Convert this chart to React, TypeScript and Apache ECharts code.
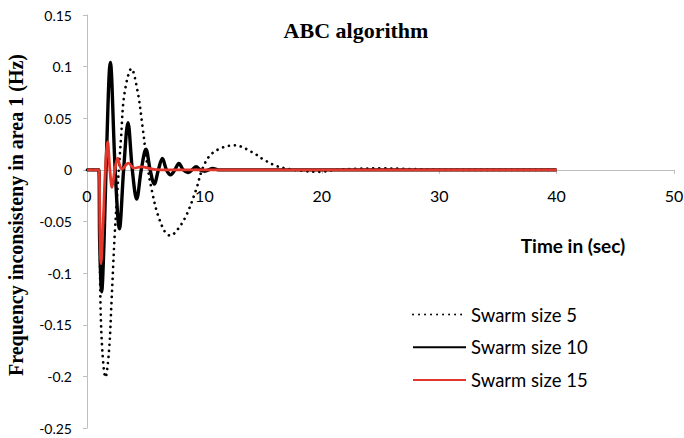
import React, { useEffect, useRef } from "react";
import * as echarts from "echarts";

// ---- Data ----
const xTickLabels = ["0", "10", "20", "30", "40", "50"];
const yTickLabels = ["-0.25", "-0.2", "-0.15", "-0.1", "-0.05", "0", "0.05", "0.1", "0.15"];

const seriesNames = ["Swarm size 5", "Swarm size 10", "Swarm size 15"];

// Swarm size 5 (dotted)
const timeSwarm5 = [0, 1.0, 1.14, 1.31, 1.57, 1.87, 2.1, 2.35, 2.61, 2.9, 3.18, 3.78, 4.31, 4.74, 5.17, 5.59, 6.02, 6.64, 7.1, 7.7, 8.46, 9.31, 9.8, 10.44, 11.4, 12.57, 14.13, 15.0, 16.1, 17.25, 18.4, 19.8, 21.2, 23.0, 25.0, 27.0, 29.0, 32, 40];
const valSwarm5 = [0, 0, -0.125, -0.176, -0.201, -0.176, -0.125, -0.065, -0.017, 0.031, 0.073, 0.098, 0.076, 0.041, 0.002, -0.0235, -0.043, -0.06, -0.0637, -0.058, -0.044, -0.0186, 0, 0.0135, 0.021, 0.0238, 0.0168, 0.0103, 0.0039, 0.0007, -0.001, -0.0019, 0, 0.001, 0.0015, 0.001, 0.0003, 0, 0];

// Swarm size 10 (solid black)
const timeSwarm10 = [0, 1.0, 1.08, 1.25, 1.45, 1.62, 1.99, 2.4, 2.76, 3.12, 3.49, 3.86, 4.23, 4.62, 5.02, 5.38, 5.73, 6.08, 6.42, 6.77, 7.12, 7.48, 7.83, 8.2, 8.6, 8.95, 9.3, 9.65, 10.0, 10.35, 10.7, 11.2, 12, 40];
const valSwarm10 = [0, 0, -0.07, -0.118, -0.07, 0, 0.104, 0, -0.057, 0, 0.0457, 0, -0.0283, 0, 0.02, 0, -0.0138, 0, 0.011, 0, -0.0048, 0, 0.0062, 0, -0.0026, 0, 0.003, 0, -0.0012, 0, 0.0013, 0, 0, 0];

// Swarm size 15 (solid red)
const timeSwarm15 = [0, 1.02, 1.1, 1.19, 1.38, 1.56, 1.76, 1.95, 2.13, 2.37, 2.61, 2.8, 2.98, 3.52, 4.03, 4.6, 5.7, 7, 40];
const valSwarm15 = [0, 0, -0.06, -0.091, -0.05, 0, 0.0274, 0, -0.017, 0, 0.0113, 0.004, 0.0007, 0.0065, 0.0016, 0.003, 0.0005, 0, 0];

const titleText = "ABC algorithm";
const xAxisTitle = "Time in (sec)";
const yAxisTitle = "Frequency inconsisteny in area 1 (Hz)";

const pairs = (t: number[], v: number[]) => t.map((x, i) => [x, v[i]]);

export default function App() {
  const ref = useRef<HTMLDivElement>(null);
  useEffect(() => {
    if (!ref.current) return;
    const chart = echarts.init(ref.current, undefined, { renderer: "svg" });
    const axisGrey = "#bfbfbf";
    const gridTop = 15;
    const gridBottom = 10;
    const gridHeight = 438 - gridTop - gridBottom;
    const yMin = -0.25;
    const yMax = 0.15;
    // distance (px) from bottom of grid to the zero line, so the x axis sits on y = 0
    const zeroOffset = -((0 - yMin) / (yMax - yMin)) * gridHeight;
    const option: any = {
      animation: false,
      backgroundColor: "#ffffff",
      grid: { left: 87, right: 10, top: gridTop, bottom: gridBottom, containLabel: false, outerBoundsMode: "none" },
      xAxis: {
        type: "value",
        min: 0,
        max: 50,
        interval: 10,
        position: "bottom",
        offset: zeroOffset,
        axisLine: { show: true, onZero: false, lineStyle: { color: axisGrey, width: 1 } },
        axisTick: { show: true, length: 4, inside: false, lineStyle: { color: axisGrey } },
        axisLabel: {
          margin: 18,
          color: "#000",
          fontFamily: "Lato",
          fontSize: 16,
          formatter: (v: number) => xTickLabels[Math.round(v / 10)] ?? String(v),
        },
        splitLine: { show: false },
      },
      yAxis: {
        type: "value",
        min: yMin,
        max: yMax,
        interval: 0.05,
        axisLine: { show: true, lineStyle: { color: axisGrey, width: 1 } },
        axisTick: { show: true, length: 4, inside: false, lineStyle: { color: axisGrey } },
        axisLabel: {
          margin: 15,
          color: "#000",
          fontFamily: "Lato",
          fontSize: 14,
          formatter: (v: number) => yTickLabels[Math.round((v + 0.25) / 0.05)] ?? String(v),
        },
        splitLine: { show: false },
      },
      legend: {
        orient: "vertical",
        left: 412,
        top: 305,
        padding: 0,
        itemWidth: 53,
        itemHeight: 14,
        itemGap: 13.7,
        itemStyle: { opacity: 0 },
        textStyle: { fontFamily: "Lato", fontSize: 18.5, color: "#000" },
        data: seriesNames,
      },
      graphic: [
        {
          type: "text",
          x: 356,
          y: 30,
          style: {
            text: titleText,
            fill: "#000",
            font: 'bold 22px "Liberation Serif"',
            align: "center",
            verticalAlign: "middle",
          },
        },
        {
          type: "text",
          x: 16,
          y: 215,
          rotation: Math.PI / 2,
          style: {
            text: yAxisTitle,
            fill: "#000",
            font: 'bold 20px "Liberation Serif"',
            align: "center",
            verticalAlign: "middle",
          },
        },
        {
          type: "text",
          x: 573,
          y: 245,
          style: {
            text: xAxisTitle,
            fill: "#000",
            font: 'bold 19px "Lato"',
            align: "center",
            verticalAlign: "middle",
          },
        },
      ],
      series: [
        {
          name: seriesNames[0],
          type: "line",
          data: pairs(timeSwarm5, valSwarm5),
          showSymbol: false,
          symbol: "none",
          smooth: 0.35,
          lineStyle: { color: "#000", width: 2.7, type: [0.01, 6], cap: "round" },
          itemStyle: { color: "#000" },
        },
        {
          name: seriesNames[1],
          type: "line",
          data: pairs(timeSwarm10, valSwarm10),
          showSymbol: false,
          symbol: "none",
          smooth: 0.35,
          lineStyle: { color: "#000", width: 3.4 },
          itemStyle: { color: "#000" },
        },
        {
          name: seriesNames[2],
          type: "line",
          data: pairs(timeSwarm15, valSwarm15),
          showSymbol: false,
          symbol: "none",
          smooth: 0.35,
          lineStyle: { color: "#e4372b", width: 2.8 },
          itemStyle: { color: "#e4372b" },
        },
      ],
    };
    chart.setOption(option);
    return () => chart.dispose();
  }, []);
  return (
    <div
      ref={ref}
      style={{ position: "absolute", left: 0, top: 0, width: 684, height: 438, background: "#fff" }}
    />
  );
}
